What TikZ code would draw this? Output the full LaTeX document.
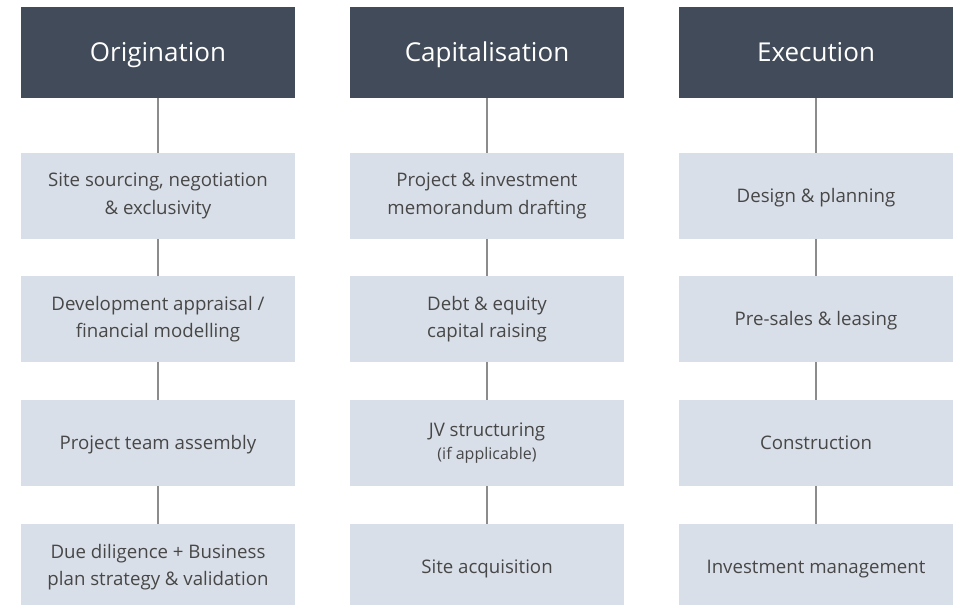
\documentclass[tikz,border=0pt]{standalone}
\usepackage{fontspec}
\setmainfont{Open Sans}
\usetikzlibrary{positioning}
\usepackage{xcolor}
\definecolor{slate}{HTML}{414B59}
\definecolor{paleblue}{HTML}{D9DFE8}
\definecolor{inkgrey}{HTML}{474747}
\definecolor{wiregrey}{HTML}{8C8C8C}

\begin{document}
\begin{tikzpicture}[x=0.75pt, y=-0.75pt]
    % Styles
    \tikzstyle{phase}=[fill=slate, text=white, minimum width=205.5pt, minimum height=68.25pt, inner sep=0pt, text height=13.9pt, text depth=0pt, font=\fontsize{19.5}{24}\selectfont]
    \tikzstyle{stage}=[fill=paleblue, text=inkgrey, minimum width=205.5pt, minimum height=64.5pt, inner sep=0pt, align=center, font=\fontsize{14}{20.5}\selectfont]
    \tikzstyle{single}=[text height=10pt, text depth=0pt]
    \tikzstyle{link}=[draw=wiregrey, line width=0.8pt]

    \useasboundingbox (0,0) rectangle (954,605);

    % Phase headers
    \node[phase] (orig) at (158,52.5) {Origination};
    \node[phase] (capi) at (487,52.5) {Capitalisation};
    \node[phase] (exec) at (816,52.5) {Execution};

    % Origination stages
    \node[stage] (orig1) at (158,196) {Site sourcing, negotiation\\\& exclusivity};
    \node[stage] (orig2) at (158,319) {Development appraisal /\\financial modelling};
    \node[stage, single] (orig3) at (158,443) {Project team assembly};
    \node[stage] (orig4) at (158,567) {Due diligence + Business\\plan strategy \& validation};

    % Capitalisation stages
    \node[stage] (capi1) at (487,196) {Project \& investment\\memorandum drafting};
    \node[stage] (capi2) at (487,319) {Debt \& equity\\capital raising};
    \node[stage] (capi3) at (487,443) {JV structuring\\[-3.2pt]{\fontsize{12}{17}\selectfont (if applicable)}};
    \node[stage, single] (capi4) at (487,567) {Site acquisition};

    % Execution stages
    \node[stage, single] (exec1) at (816,196) {Design \& planning};
    \node[stage, single] (exec2) at (816,319) {Pre-sales \& leasing};
    \node[stage, single] (exec3) at (816,443) {Construction};
    \node[stage, single] (exec4) at (816,567) {Investment management};

    % Links
    \draw[link] (orig) -- (orig1);
    \draw[link] (orig1) -- (orig2);
    \draw[link] (orig2) -- (orig3);
    \draw[link] (orig3) -- (orig4);

    \draw[link] (capi) -- (capi1);
    \draw[link] (capi1) -- (capi2);
    \draw[link] (capi2) -- (capi3);
    \draw[link] (capi3) -- (capi4);

    \draw[link] (exec) -- (exec1);
    \draw[link] (exec1) -- (exec2);
    \draw[link] (exec2) -- (exec3);
    \draw[link] (exec3) -- (exec4);
\end{tikzpicture}
\end{document}
